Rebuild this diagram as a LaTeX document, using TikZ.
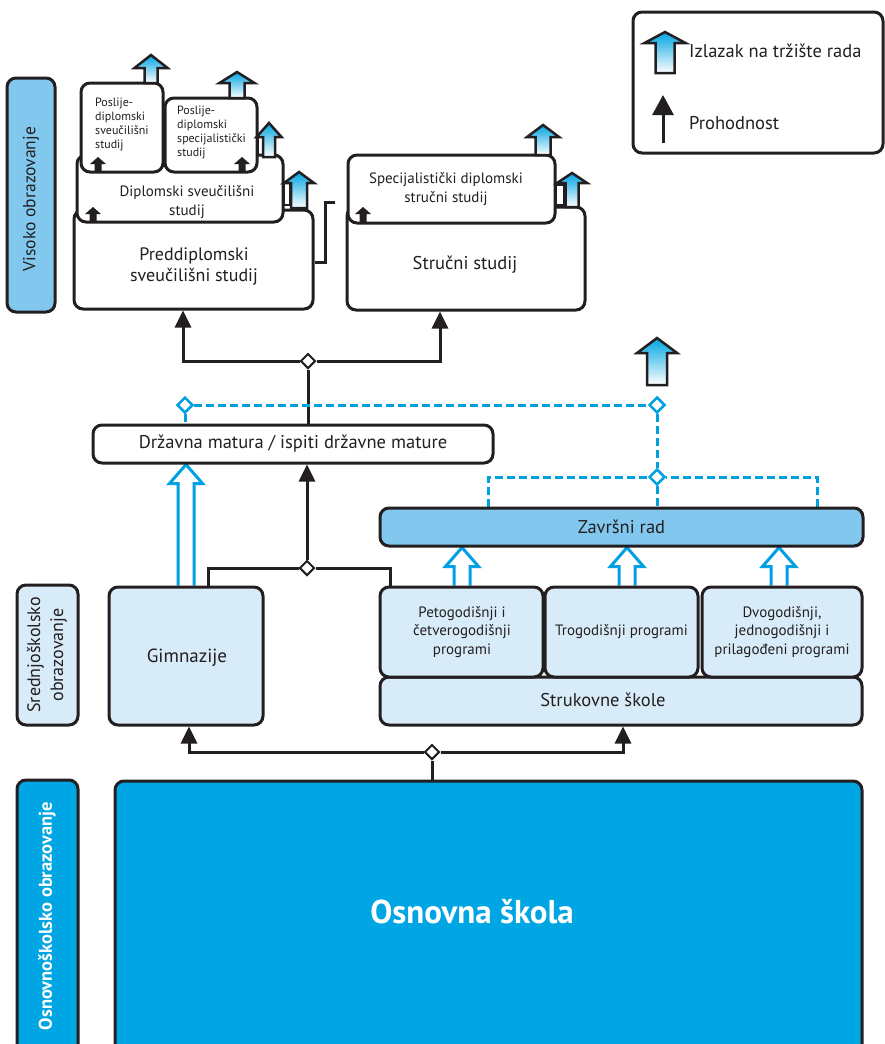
\documentclass[tikz,border=0pt]{standalone}
\usepackage{fontspec}
\setmainfont{PT Sans}
\usetikzlibrary{arrows.meta,shapes.geometric,calc}
\definecolor{lc}{HTML}{231F20}
\definecolor{dblue}{HTML}{00A5E3}
\definecolor{mblue}{HTML}{82C8EE}
\definecolor{lblue}{HTML}{D8EBF8}
\definecolor{bline}{HTML}{00A0E3}
\pgfdeclarelayer{bg}
\pgfdeclarelayer{paper}
\pgfsetlayers{paper,bg,main}
% market-exit arrow icon: cx, top, bottom, shaft width, head width, head height
\newcommand\mkt[6]{%
 \draw[lc, line width=2.5pt, line join=miter, top color=dblue, bottom color=white]
 ({#1-#4/2},#3) -- ({#1-#4/2},{#2+#6}) -- ({#1-#5/2},{#2+#6}) -- (#1,#2) --
 ({#1+#5/2},{#2+#6}) -- ({#1+#4/2},{#2+#6}) -- ({#1+#4/2},#3) -- cycle;}
% small black pass arrow: cx, bottom
\newcommand\blk[2]{%
 \fill[lc] ({#1-3.5},#2) -- ({#1-3.5},{#2-8}) -- ({#1-8},{#2-8}) -- (#1,{#2-15}) --
 ({#1+8},{#2-8}) -- ({#1+3.5},{#2-8}) -- ({#1+3.5},#2) -- cycle;}
% blue hollow arrow between nodes: x, bottom anchor, top anchor
\newcommand\blueup[3]{%
 \draw[bluearr] let \p1=(#2), \p2=(#3) in
 (#1pt-8pt,\y1) -- (#1pt-8pt,\y2-19pt) -- (#1pt-16.5pt,\y2-19pt) -- (#1pt,\y2) --
 (#1pt+16.5pt,\y2-19pt) -- (#1pt+8pt,\y2-19pt) -- (#1pt+8pt,\y1);}
\begin{document}
\begin{tikzpicture}[x=1pt,y=-1pt,
 box/.style={draw=lc, line width=3pt, rounded corners=9pt, fill=white, inner sep=0pt, align=center, text=lc},
 lbl/.style={text=lc, inner sep=0pt, align=center},
 conn/.style={draw=lc, line width=3pt},
 arr/.style={conn, -{Triangle[width=16pt,length=17pt]}},
 bdash/.style={draw=bline, line width=3pt, dash pattern=on 8pt off 4pt},
 bluearr/.style={draw=bline, line width=3pt, fill=white, line join=miter},
 dia/.style={diamond, draw=lc, fill=white, line width=2pt, minimum size=15pt, inner sep=0pt},
 bdia/.style={diamond, draw=bline, fill=white, line width=2.5pt, minimum size=16pt, inner sep=0pt},
 f11/.style={font=\fontsize{12}{14}\selectfont},
 f13/.style={font=\fontsize{15}{18.5}\selectfont},
 f14/.style={font=\fontsize{15}{18.5}\selectfont},
 f16/.style={font=\fontsize{18.5}{21}\selectfont}]
\useasboundingbox (0,0) rectangle (884,1044);
\begin{pgfonlayer}{paper}
\fill[white] (0,0) rectangle (884,1044);
\end{pgfonlayer}

% ---- left level labels
\node[box, fill=mblue, minimum width=48pt, minimum height=234pt] (vis) at (31,195) {};
\node[lbl, font=\fontsize{17.5}{21}\selectfont, rotate=90] (tvis) at (31,199) {Visoko obrazovanje};
\node[box, fill=lblue, minimum width=61pt, minimum height=140pt] (sred) at (47.5,655) {};
\node[lbl, rotate=90, font=\fontsize{18}{23}\selectfont] (tsred) at (47,655) {Srednjoškolsko\\obrazovanje};
\node[box, fill=dblue, minimum width=61pt, minimum height=290pt] (osnl) at (47.5,925) {};
\node[lbl, rotate=90, text=white, font=\fontsize{18.5}{20}\selectfont\bfseries] (tosnl) at (47,916) {Osnovnoškolsko obrazovanje};

% ---- higher education
\node[box, minimum width=239pt, minimum height=99pt] (pred) at (193.5,259.5) {};
\node[lbl, font=\fontsize{18}{21}\selectfont] (tpred) at (194,267) {Preddiplomski\\sveučilišni studij};
\node[box, minimum width=206pt, minimum height=67pt] (dipl) at (180,188.5) {};
\node[lbl, f14] (tdipl) at (187,202) {Diplomski sveučilišni\\studij};
\node[box, minimum width=82pt, minimum height=89pt] (pos1) at (122,127.5) {};
\node[lbl, f11, align=left, anchor=north west] (tpos1) at (95,98) {Poslije-\\diplomski\\sveučilišni\\studij};
\node[box, minimum width=92pt, minimum height=74pt] (pos2) at (211,135) {};
\node[lbl, f11, align=left, anchor=north west] (tpos2) at (177,106) {Poslije-\\diplomski\\specijalistički\\studij};

\node[box, minimum width=238pt, minimum height=103pt] (stru) at (466,258.5) {};
\node[lbl, f16] (tstru) at (465,265) {Stručni studij};
\node[box, minimum width=207pt, minimum height=68pt] (spec) at (451.5,189) {};
\node[lbl, f14] (tspec) at (446,189) {Specijalistički diplomski\\stručni studij};

% small pass arrows inside boxes
\blk{98}{172}
\blk{242}{172}
\blk{93}{222}
\blk{363}{222}

% small outline pieces beside market arrows
\draw[lc, line width=2pt] (258,137) rectangle (263,155);
\draw[lc, line width=2pt] (284,183) rectangle (290,205);
\draw[lc, line width=2pt] (556,185) rectangle (564,205);

% market-exit arrows
\mkt{151}{55}{83}{13}{33}{13}
\mkt{237}{72}{98}{15}{35}{11}
\mkt{269}{123}{157}{12}{25}{14}
\mkt{299}{172}{208}{16}{30}{11}
\mkt{543}{125}{155}{15}{32}{12}
\mkt{572}{173}{207}{13}{30}{10}
\mkt{657}{338}{385}{20}{40}{15}

% ---- state matura
\node[box, minimum width=400pt, minimum height=38pt, f16] (dm) at (293,444) {Državna matura / ispiti državne mature};

% ---- secondary
\node[box, fill=mblue, minimum width=483pt, minimum height=38pt, f16] (zav) at (621.5,527) {Završni rad};
\node[box, fill=lblue, minimum width=154pt, minimum height=138pt] (gim) at (186,656) {};
\node[lbl, font=\fontsize{19}{21}\selectfont] (tgim) at (187,658) {Gimnazije};
\node[box, fill=lblue, minimum width=482pt, minimum height=48pt] (struk) at (621,701) {};
\node[lbl, f16] (tstruk) at (603,700) {Strukovne škole};
\node[box, fill=lblue, minimum width=163pt, minimum height=90pt] (p1) at (461.5,632) {};
\node[lbl, f13] (tp1) at (462,632) {Petogodišnji i\\četverogodišnji\\programi};
\node[box, fill=lblue, minimum width=153pt, minimum height=90pt, f13] (p2) at (621.5,632) {Trogodišnji programi};
\node[box, fill=lblue, minimum width=160pt, minimum height=90pt] (p3) at (782,632) {};
\node[lbl, f13] (tp3) at (782,632) {Dvogodišnji,\\jednogodišnji i\\prilagođeni programi};

% ---- primary
\node[box, fill=dblue, minimum width=747pt, minimum height=290pt] (osn) at (488.5,926) {};
\node[lbl, text=white, font=\fontsize{33}{36}\selectfont\bfseries] (tosn) at (472,912) {Osnovna škola};

% ---- legend
\node[box, minimum width=250pt, minimum height=141pt] (leg) at (758,82.5) {};
\mkt{665}{32}{73}{19}{41}{11}
\node[lbl, f16, anchor=west] (tleg1) at (689,51) {Izlazak na tržište rada};
\coordinate (lgb) at (663,143);
\coordinate (lgt) at (663,95);
\draw[conn, -{Triangle[width=21pt,length=20pt]}] (lgb) -- (lgt);
\node[lbl, f16, anchor=west] (tleg2) at (689,123) {Prohodnost};

% ---- diamonds
\node[dia] (d1) at (308,361) {};
\node[dia] (d2) at (307,568) {};
\node[dia] (d3) at (432,752) {};
\node[bdia] (b1) at (185,405) {};
\node[bdia] (b2) at (657,405) {};
\node[bdia] (b3) at (657,477) {};

% ---- connectors (under the boxes)
\begin{pgfonlayer}{bg}
\draw[conn] (dm.north -| d1) -- (d1);
\draw[arr] (d1) -| (183,0 |- pred.south);
\draw[arr] (d1) -| (440,0 |- stru.south);
\draw[conn] (pred.east |- 0,262) -| (325,202) -- (335,202);
\draw[conn] (208,0 |- gim.north) |- (d2) -| (390,0 |- p1.north);
\draw[arr] (d2) -- (d2 |- dm.south);
\draw[conn] (osn.north -| d3) -- (d3);
\draw[arr] (d3) -| (189,0 |- gim.south);
\draw[arr] (d3) -| (623,0 |- struk.south);
\draw[bdash] (b1) -- (b1 |- dm.north);
\draw[bdash] (b1) -- (b2);
\draw[bdash] (b2) -- (b3);
\draw[bdash] (b3) -- (b3 |- zav.north);
\draw[bdash] (488,0 |- zav.north) |- (b3);
\draw[bdash] (817,0 |- zav.north) |- (b3);
\blueup{186}{186,0 |- gim.north}{186,0 |- dm.south}
\blueup{462}{462,0 |- p1.north}{462,0 |- zav.south}
\blueup{627}{627,0 |- p2.north}{627,0 |- zav.south}
\blueup{779}{779,0 |- p3.north}{779,0 |- zav.south}
\end{pgfonlayer}
\end{tikzpicture}
\end{document}
